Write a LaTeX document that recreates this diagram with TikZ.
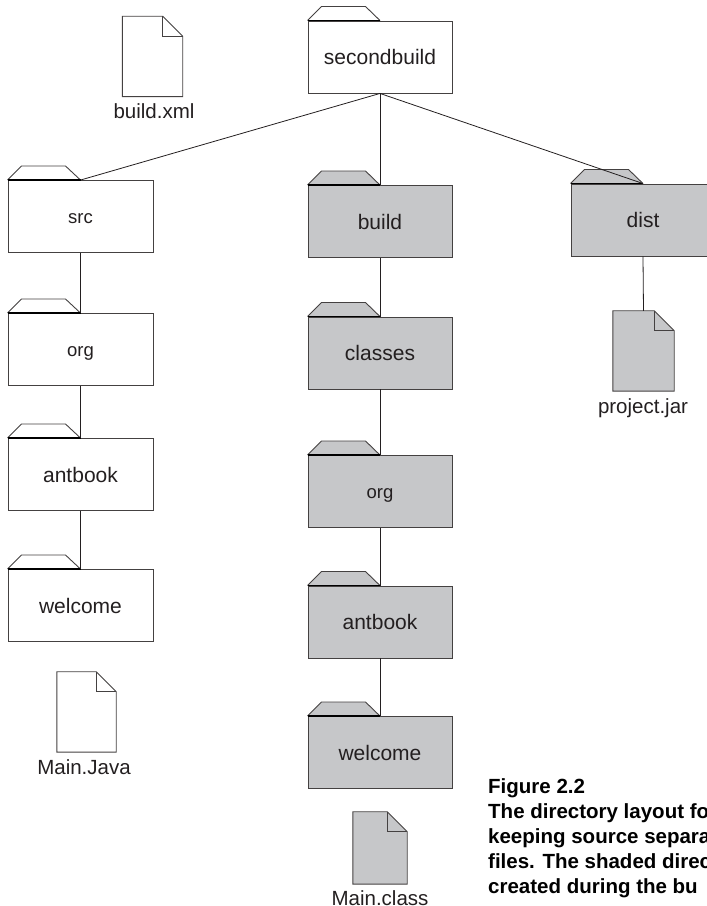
\documentclass[tikz,border=0pt]{standalone}
\usepackage{fontspec}
\setmainfont{Liberation Sans}
\usetikzlibrary{positioning}
\definecolor{shade}{HTML}{C6C7C9}
\definecolor{ink}{HTML}{231F20}
\begin{document}
\begin{tikzpicture}[
    x=1pt, y=1pt,
    folder/.style={rectangle, draw=ink!85, line width=0.9pt, fill=white, text=ink, minimum width=144pt, minimum height=72pt, inner sep=0pt, font=\fontsize{21}{24}\selectfont},
    smallfolder/.style={folder, text height=14pt, text depth=0pt, font=\fontsize{18.5}{21}\selectfont},
    built/.style={fill=shade},
    doc/.style={rectangle, minimum width=60pt, minimum height=80pt, inner sep=0pt},
    doclabel/.style={text=ink, inner sep=0pt, font=\fontsize{20.5}{24}\selectfont},
    tree_link/.style={draw=ink, line width=0.8pt}, % linee tra le cartelle
    outline/.style={draw=ink!85, line width=0.9pt},
    figtext/.style={text=black, inner sep=0pt, align=left, font=\fontsize{20.5}{25}\selectfont\bfseries}
]
\useasboundingbox (0,0) rectangle (707,906);
\clip (0,0) rectangle (707,906);
% left column
\node[folder] (secondbuild) at (380,849) {secondbuild};
\node[smallfolder, minimum width=145pt] (src) at (80.5,689.5) {src};
\node[smallfolder, minimum width=145pt] (srcorg) at (80.5,556.5) {org};
\node[folder, minimum width=145pt] (srcantbook) at (80.5,431.5) {antbook};
\node[folder, minimum width=145pt] (srcwelcome) at (80.5,300.5) {welcome};
% shaded column
\node[folder, built] (build) at (380,684.5) {build};
\node[folder, built] (classes) at (380,553) {classes};
\node[smallfolder, built] (buildorg) at (380,414.5) {org};
\node[folder, built] (buildantbook) at (380,284) {antbook};
\node[folder, built] (buildwelcome) at (380,153.5) {welcome};
\node[folder, built] (dist) at (643,686) {dist};
% files
\node[doc] (buildxml) at (152.5,849.5) {};
\node[doc, minimum width=59pt] (mainjava) at (86.5,194) {};
\node[doc, minimum width=61pt] (projectjar) at (643.5,555) {};
\node[doc, minimum width=54pt, minimum height=72pt] (mainclass) at (380,58) {};
\node[doclabel, below=7pt of buildxml, xshift=1.5pt] (buildxmllabel) {build.xml};
\node[doclabel, below=7pt of mainjava, xshift=-2.5pt] (mainjavalabel) {Main.Java};
\node[doclabel, below=7pt of projectjar, xshift=-0.5pt] (projectjarlabel) {project.jar};
\node[doclabel, below=6pt of mainclass] (mainclasslabel) {Main.class};
% tabs
\foreach \n in {secondbuild,src,srcorg,srcantbook,srcwelcome}
    \draw[outline, fill=white] (\n.north west) -- ++(14,14) -- ++(44,0) -- (\n.north);
\foreach \n in {build,classes,buildorg,buildantbook,buildwelcome,dist}
    \draw[outline, fill=shade] (\n.north west) -- ++(14,14) -- ++(44,0) -- (\n.north);
\foreach \n in {secondbuild,src,srcorg,srcantbook,srcwelcome,build,classes,buildorg,buildantbook,buildwelcome,dist}
    \draw[draw=black, line width=1.3pt] (\n.north west) -- (\n.north);
% sheets
\foreach \n/\c in {buildxml/white,mainjava/white,projectjar/shade,mainclass/shade} {
    \draw[outline, fill=\c] (\n.south west) -- (\n.north west) -- ([xshift=-20pt]\n.north east) -- ([yshift=-20pt]\n.north east) -- (\n.south east) -- cycle;
    \draw[outline] ([xshift=-20pt]\n.north east) |- ([yshift=-20pt]\n.north east);
}
% links
\draw[tree_link] (secondbuild.south) -- (src.north);
\draw[tree_link] (secondbuild.south) -- (build.north);
\draw[tree_link] (secondbuild.south) -- (dist.north);
\draw[tree_link] (src) -- (srcorg);
\draw[tree_link] (srcorg) -- (srcantbook);
\draw[tree_link] (srcantbook) -- (srcwelcome);
\draw[tree_link] (build) -- (classes);
\draw[tree_link] (classes) -- (buildorg);
\draw[tree_link] (buildorg) -- (buildantbook);
\draw[tree_link] (buildantbook) -- (buildwelcome);
\draw[tree_link] (dist.south) -- (projectjar.north);
\node[figtext, anchor=north west] (figcaption) at (488,128) {Figure 2.2\\The directory layout fo\\keeping source separa\\files. The shaded direc\\created during the bu};
\end{tikzpicture}
\end{document}
